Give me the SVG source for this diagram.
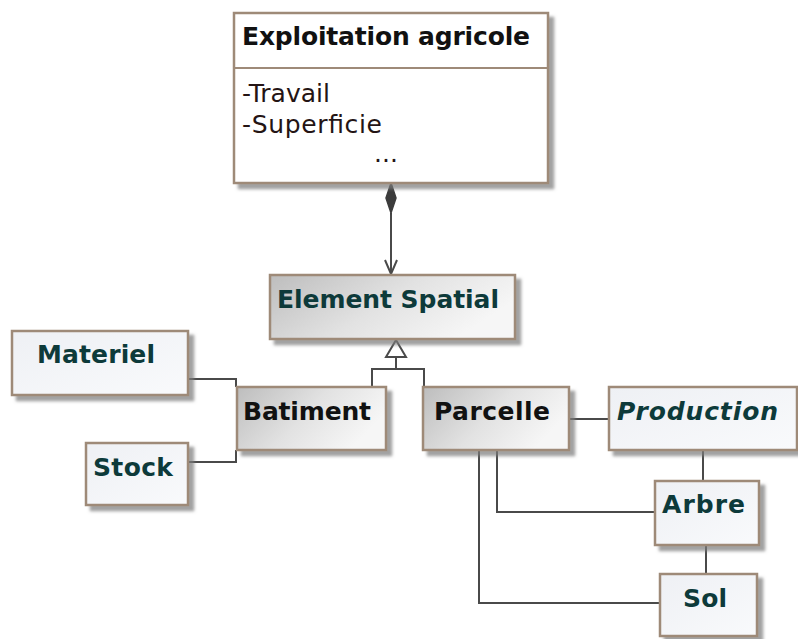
<svg xmlns="http://www.w3.org/2000/svg" width="798" height="639" viewBox="0 0 798 639">
<defs>
<linearGradient id="grey" x1="0" y1="0" x2="1" y2="0.4">
<stop offset="0" stop-color="#bdbdbd"/>
<stop offset="0.55" stop-color="#e2e2e2"/>
<stop offset="1" stop-color="#f6f6f6"/>
</linearGradient>
<linearGradient id="light" x1="0" y1="0" x2="1" y2="1">
<stop offset="0" stop-color="#eef0f4"/>
<stop offset="1" stop-color="#f9fafc"/>
</linearGradient>
<filter id="sh" x="-10%" y="-10%" width="130%" height="140%">
<feDropShadow dx="5" dy="5" stdDeviation="1.5" flood-color="#7a7a7a" flood-opacity="0.7"/>
</filter>
<marker id="open" viewBox="0 0 16 14" refX="15" refY="7" markerWidth="16" markerHeight="14" markerUnits="userSpaceOnUse" orient="auto">
<path d="M1,1 L15,7 L1,13" fill="none" stroke="#4a4a4a" stroke-width="2"/>
</marker>
</defs>
<style>
.box{stroke:#9e8a78;stroke-width:2.5;filter:url(#sh)}
.w{fill:#ffffff}
.g{fill:url(#grey)}
.l{fill:url(#light)}
.t{font-family:"DejaVu Sans",Verdana,sans-serif;font-weight:bold;font-size:25px}
.teal{fill:#0d3a3a}
.blk{fill:#111111}
.attr{font-family:"DejaVu Sans",Verdana,sans-serif;font-size:25px;fill:#241414}
.c{fill:none;stroke:#4a4a4a;stroke-width:2}
</style>
<rect width="798" height="639" fill="#ffffff"/>

<g id="connectors">
<path class="c" d="M391,213 V274" marker-end="url(#open)"/>
<path d="M391,183 L396,198 L391,213 L386,198 Z" fill="#3c3c3c" stroke="#3c3c3c" stroke-width="1.5"/>
<path class="c" d="M396,357 V369 M372,387 V369 H424 V387"/>
<path d="M396,340 L406,357 L386,357 Z" fill="#ffffff" stroke="#4a4a4a" stroke-width="2"/>
<path class="c" d="M188,379 H236 V387"/>
<path class="c" d="M188,462 H236 V450"/>
<path class="c" d="M569,419 H609"/>
<path class="c" d="M703,450 V481"/>
<path class="c" d="M706,545 V574"/>
<path class="c" d="M497,450 V512 H655"/>
<path class="c" d="M479,450 V603 H660"/>
</g>

<g id="exploitation">
<rect class="box w" x="234" y="13" width="314" height="170"/>
<line x1="234" y1="68" x2="548" y2="68" stroke="#9e8a78" stroke-width="2"/>
<text class="t blk" x="242" y="45" textLength="288">Exploitation agricole</text>
<text class="attr" x="242" y="102">-Travail</text>
<text class="attr" x="242" y="133" textLength="140">-Superficie</text>
<text class="attr" x="374" y="162">...</text>
</g>

<g id="element-spatial">
<rect class="box g" x="270" y="275" width="245" height="64"/>
<text class="t teal" x="277" y="308" textLength="222">Element Spatial</text>
</g>

<g id="materiel">
<rect class="box l" x="12" y="331" width="176" height="64"/>
<text class="t teal" x="37" y="363" textLength="118">Materiel</text>
</g>

<g id="stock">
<rect class="box l" x="86" y="443" width="102" height="62"/>
<text class="t teal" x="93" y="476" textLength="80">Stock</text>
</g>

<g id="batiment">
<rect class="box g" x="237" y="387" width="149" height="63"/>
<text class="t blk" x="243" y="420" textLength="128">Batiment</text>
</g>

<g id="parcelle">
<rect class="box g" x="423" y="387" width="146" height="63"/>
<text class="t blk" x="434" y="420" textLength="116">Parcelle</text>
</g>

<g id="production">
<rect class="box l" x="609" y="387" width="188" height="63"/>
<text class="t teal" x="617" y="420" font-style="italic" textLength="161">Production</text>
</g>

<g id="arbre">
<rect class="box l" x="655" y="481" width="104" height="64"/>
<text class="t teal" x="662" y="513" textLength="83">Arbre</text>
</g>

<g id="sol">
<rect class="box l" x="660" y="574" width="97" height="62"/>
<text class="t teal" x="683" y="607" textLength="44">Sol</text>
</g>
</svg>
